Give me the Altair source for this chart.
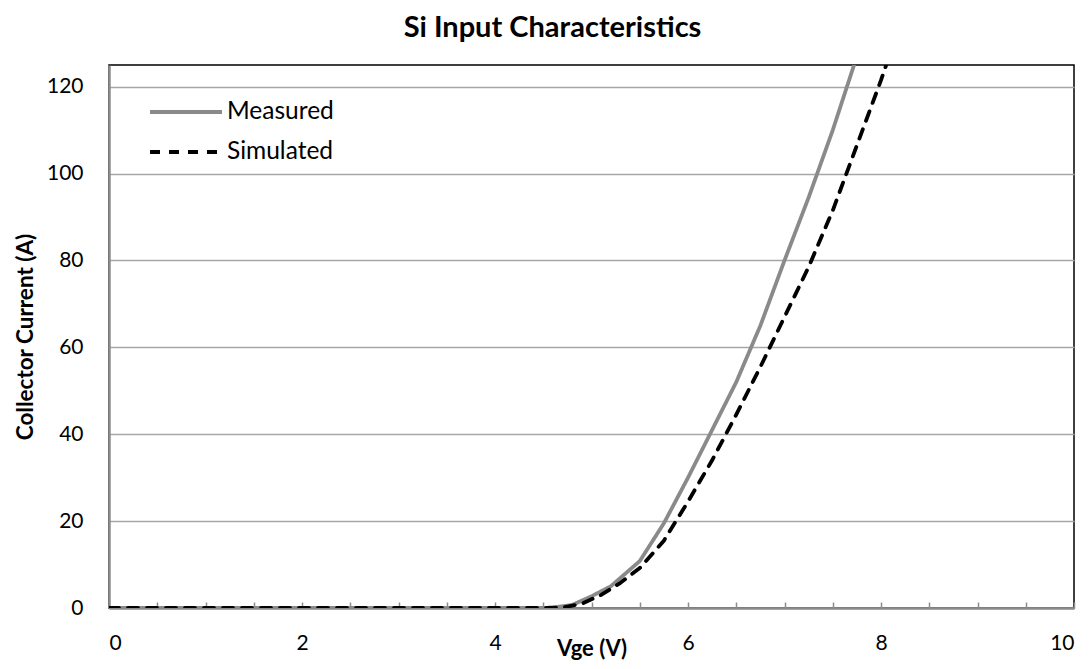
import altair as alt
import pandas as pd

# ---- data ----
vge_measured = [0.0, 4.0, 4.5, 4.6, 4.8, 5.0, 5.2, 5.5, 5.75, 6.0, 6.25, 6.5, 6.75, 7.0, 7.25, 7.5, 7.75]
ic_measured = [0.0, 0.0, 0.0, 0.1, 0.7, 2.7, 5.0, 10.8, 19.5, 30.0, 41.0, 52.0, 65.0, 80.0, 94.5, 110.0, 127.0]

vge_simulated = [0.0, 4.0, 4.5, 4.7, 4.9, 5.1, 5.3, 5.5, 5.75, 6.0, 6.25, 6.5, 6.75, 7.0, 7.25, 7.5, 7.75, 8.0, 8.1]
ic_simulated = [0.0, 0.0, 0.0, 0.1, 1.0, 3.0, 5.8, 9.2, 15.5, 24.5, 34.0, 44.5, 55.5, 67.0, 78.5, 91.5, 106.5, 121.5, 128.0]

series_names = ["Measured", "Simulated"]
series_colors = ["#8a8a8a", "#000000"]
series_dashes = [[1, 0], [10, 9]]

x_label_values = [0, 2, 4, 6, 8, 10]
x_minor_ticks = [0, 0.5, 1, 1.5, 2, 2.5, 3, 3.5, 4, 4.5, 5, 5.5, 6, 6.5, 7, 7.5, 8, 8.5, 9, 9.5, 10]
y_tick_values = [0, 20, 40, 60, 80, 100, 120]

df = pd.concat([
    pd.DataFrame({"Vge": vge_measured, "Ic": ic_measured, "Series": series_names[0]}),
    pd.DataFrame({"Vge": vge_simulated, "Ic": ic_simulated, "Series": series_names[1]}),
], ignore_index=True)

FONT = "Lato"
W, H = 965, 543

x_scale = alt.Scale(domain=[0, 10], nice=False, zero=False)
y_scale = alt.Scale(domain=[0, 125], nice=False)

legend = alt.Legend(
    title=None, orient="none", legendX=39, legendY=32,
    symbolType="stroke", symbolSize=5184, symbolStrokeWidth=3.8,
    labelFont=FONT, labelFontSize=24.5, labelColor="#000000", labelOffset=3,
    clipHeight=30, rowPadding=10, padding=0,
)

lines = alt.Chart(df).mark_line(
    clip=True, strokeWidth=3.8, strokeCap="round", strokeJoin="round"
).encode(
    x=alt.X("Vge:Q", scale=x_scale, axis=alt.Axis(
        orient="bottom", title="Vge (V)", values=x_label_values, ticks=False, grid=False,
        domainColor="#8c8c8c", domainWidth=2.5, labelPadding=24,
        labelFont=FONT, titleFont=FONT, labelColor="#000000", titleColor="#000000",
        labelFontSize=21, titleFontSize=22, titleFontWeight="bold",
        titleY=47, titleBaseline="alphabetic",
    )),
    y=alt.Y("Ic:Q", scale=y_scale, axis=alt.Axis(
        title="Collector Current (A)", values=y_tick_values, ticks=False, grid=True,
        gridColor="#a6a6a6", gridWidth=1.5,
        domainColor="#8c8c8c", domainWidth=2.5, labelPadding=26,
        labelFont=FONT, titleFont=FONT, labelColor="#000000", titleColor="#000000",
        labelFontSize=21, titleFontSize=22.5, titleFontWeight="bold", titlePadding=9,
    )),
    color=alt.Color("Series:N", scale=alt.Scale(domain=series_names, range=series_colors), legend=legend),
    strokeDash=alt.StrokeDash("Series:N", scale=alt.Scale(domain=series_names, range=series_dashes), legend=legend),
)

ticks_layer = alt.Chart(df).mark_point(opacity=0).encode(
    x=alt.X("Vge:Q", scale=x_scale, axis=alt.Axis(
        orient="top", offset=-H, values=x_minor_ticks, labels=False, domain=False,
        ticks=True, tickSize=6, tickColor="#8c8c8c", tickWidth=1.5, grid=False, title=None,
    )),
)

chart = alt.layer(lines, ticks_layer).resolve_axis(x="independent").properties(
    width=W, height=H,
    background="#ffffff",
    title=alt.TitleParams("Si Input Characteristics", font=FONT, fontSize=29, fontWeight="bold",
                          color="#000000", anchor="middle", dx=-39, offset=22),
    padding={"left": 101, "top": 57, "right": 10, "bottom": 53},
    autosize=alt.AutoSizeParams(type="none"),
).configure_view(
    stroke="#000000", strokeWidth=1.5
)

chart.save("out.html", embed_options={"renderer": "svg", "actions": False})
